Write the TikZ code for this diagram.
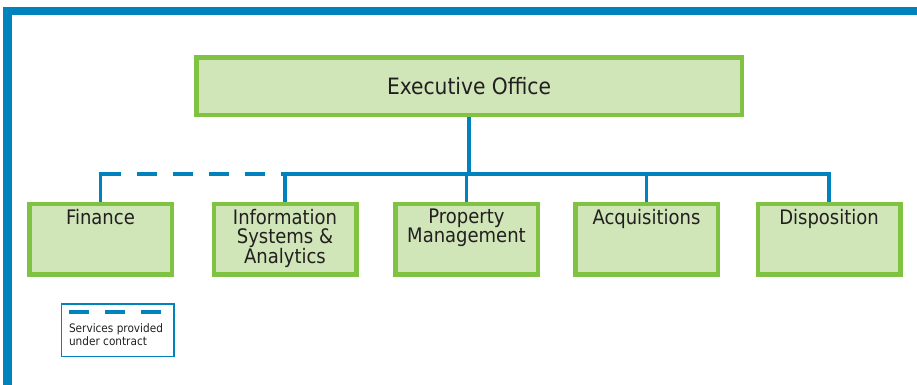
\documentclass[tikz,border=0pt]{standalone}
\usepackage{fontspec}
\setmainfont{DejaVu Sans Condensed}
\usetikzlibrary{backgrounds}

\definecolor{orgblue}{HTML}{0083BC}
\definecolor{orggreen}{HTML}{80C342}
\definecolor{orgfill}{HTML}{D0E5B8}
\definecolor{orgtext}{HTML}{231F20}
\newcommand{\unittext}[1]{\parbox[c][70.5pt][t]{142.5pt}{\centering\vspace*{5.3pt}#1}}

\begin{document}
\begin{tikzpicture}[x=1pt, y=-1pt,
  unit/.style={rectangle, draw=orggreen, fill=orgfill, line width=4.5pt, inner sep=0pt, text=orgtext, font=\fontsize{20}{19.2}\selectfont},
  link/.style={draw=orgblue, line width=3.5pt},
  contract/.style={link, dash pattern=on 20pt off 16pt}]
  \useasboundingbox (0,0) rectangle (917,384);
  \draw[orgblue, line width=8.3pt] (7.5,400) -- (7.5,10.8) -- (930,10.8);
  \node[unit, minimum width=545.5pt, minimum height=57.5pt, font=\fontsize{22.5}{24}\selectfont] (exec) at (469,86) {Executive Office};
  \node[unit] (fin) at (100.5,239) {\unittext{Finance}};
  \node[unit] (info) at (285,239) {\unittext{Information\\Systems \&\\Analytics}};
  \node[unit] (prop) at (466.5,239) {\unittext{Property\\Management}};
  \node[unit] (acq) at (646.5,239) {\unittext{Acquisitions}};
  \node[unit] (disp) at (829,239) {\unittext{Disposition}};
  \coordinate (bus) at (0,174);
  \begin{scope}[on background layer]
    \draw[link] (exec.south) -- (exec.south |- bus);
    \draw[link] (fin.north) -- ([yshift=1.75pt]fin.north |- bus);
    \draw[contract] (fin.north |- bus) -- (info.north |- bus);
    \draw[link] (info.north |- bus) -- (disp.north |- bus) -- (disp.north);
    \foreach \n in {info, prop, acq}
      \draw[link] (\n.north) -- (\n.north |- bus);
  \end{scope}
  \node[draw=orgblue, line width=1.2pt, inner xsep=7.4pt, inner ysep=0pt, text=orgtext, font=\fontsize{11.7}{13}\selectfont] (legend) at (117.8,330.3) {\parbox[c][52.8pt][t]{97.5pt}{\raggedright\vspace*{19.4pt}Services provided\\under contract}};
  \coordinate (legA) at (69,311.7);
  \coordinate (legB) at (163,311.7);
  \draw[contract, line width=4.3pt] (legA) -- (legB);
\end{tikzpicture}
\end{document}
